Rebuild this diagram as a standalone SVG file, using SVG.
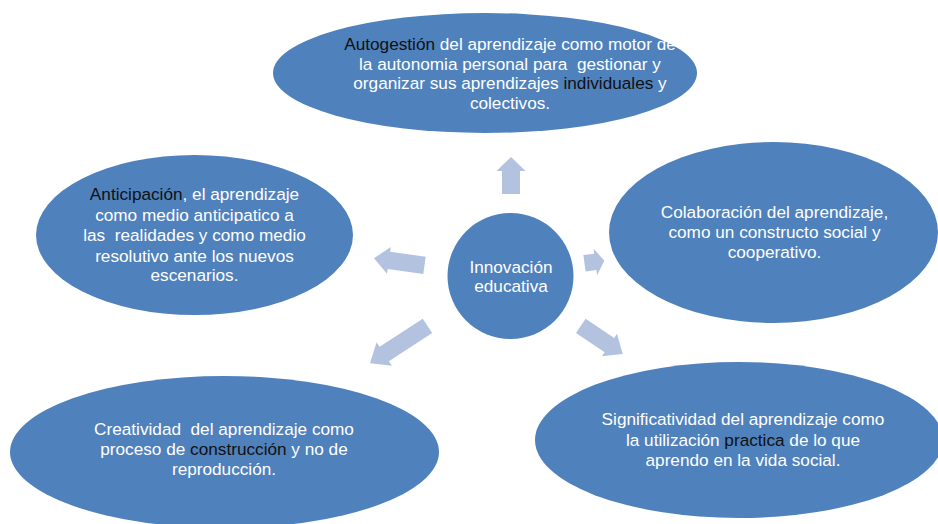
<svg xmlns="http://www.w3.org/2000/svg" width="938" height="524" viewBox="0 0 938 524">
<style>
.node{fill:#4F81BD;}
.arr{fill:#B3C3DF;}
text{font-family:"Liberation Sans",Arial,sans-serif;font-size:17.2px;fill:#ffffff;text-anchor:middle;white-space:pre;}
.dk{fill:#111111;}
</style>
<rect width="938" height="524" fill="#ffffff"/>
<g id="connectors">
<polygon class="arr" points="0,0 -14,-14.5 -14,-9 -37,-9 -37,9 -14,9 -14,14.5" transform="translate(511,157) rotate(-90)"/>
<polygon class="arr" points="0,0 -15,-13.5 -15,-8.7 -51,-8.7 -51,8.7 -15,8.7 -15,13.5" transform="translate(374,258.3) rotate(187.9)"/>
<polygon class="arr" points="0,0 -9,-13.5 -9,-8.3 -20,-8.3 -20,8.3 -9,8.3 -9,13.5" transform="translate(604.3,260.7) rotate(-7.5)"/>
<polygon class="arr" points="0,0 -17,-14 -17,-8.6 -68.6,-8.6 -68.6,8.6 -17,8.6 -17,14" transform="translate(370,363.3) rotate(146.9)"/>
<polygon class="arr" points="0,0 -16,-13.5 -16,-8.6 -50.5,-8.6 -50.5,8.6 -16,8.6 -16,13.5" transform="translate(622.7,354) rotate(33.9)"/>
</g>
<g id="n-top">
<ellipse class="node" cx="485" cy="73" rx="212" ry="60"/>
<text x="510" y="50"><tspan class="dk">Autogestión</tspan> del aprendizaje como motor de</text>
<text x="510" y="69.7">la autonomia personal para  gestionar y</text>
<text x="510" y="89.4">organizar sus aprendizajes <tspan class="dk">individuales</tspan> y</text>
<text x="510" y="109">colectivos.</text>
</g>
<g id="n-left">
<ellipse class="node" cx="194.5" cy="235" rx="158.5" ry="80"/>
<text x="194.5" y="200"><tspan class="dk">Anticipación</tspan>, el aprendizaje</text>
<text x="194.5" y="220.5">como medio anticipatico a</text>
<text x="194.5" y="241">las  realidades y como medio</text>
<text x="194.5" y="261.5">resolutivo ante los nuevos</text>
<text x="194.5" y="281">escenarios.</text>
</g>
<g id="n-center">
<circle class="node" cx="510.5" cy="276" r="63"/>
<text x="511" y="272.5">Innovación</text>
<text x="511" y="292">educativa</text>
</g>
<g id="n-right">
<ellipse class="node" cx="773.5" cy="232.5" rx="164.5" ry="90.5"/>
<text x="774.5" y="217.5">Colaboración del aprendizaje,</text>
<text x="774.5" y="237.5">como un constructo social y</text>
<text x="774.5" y="257.5">cooperativo.</text>
</g>
<g id="n-bottom-left">
<ellipse class="node" cx="224.5" cy="452" rx="214.5" ry="76"/>
<text x="224" y="434.5">Creatividad  del aprendizaje como</text>
<text x="224" y="455">proceso de <tspan class="dk">construcción</tspan> y no de</text>
<text x="224" y="475">reproducción.</text>
</g>
<g id="n-bottom-right">
<ellipse class="node" cx="739" cy="440" rx="204" ry="78"/>
<text x="743" y="425">Significatividad del aprendizaje como</text>
<text x="743" y="445.5">la utilización <tspan class="dk">practica</tspan> de lo que</text>
<text x="743" y="466">aprendo en la vida social.</text>
</g>
</svg>
